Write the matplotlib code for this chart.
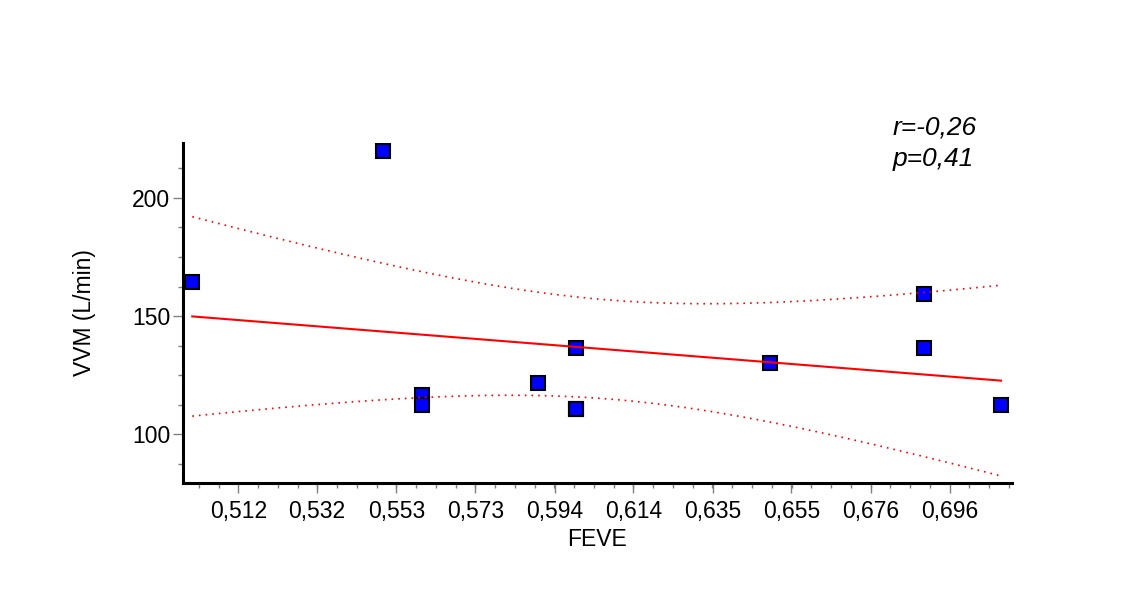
import numpy as np
import matplotlib
matplotlib.use("Agg")
import matplotlib.pyplot as plt
from matplotlib.ticker import FixedLocator, MultipleLocator

plt.rcParams['font.family'] = ['Liberation Sans', 'DejaVu Sans']

# FEVE vs VVM, one pair per subject (two subjects share the same values)
feve = [0.5001, 0.5494, 0.5595, 0.5595, 0.5896, 0.5994, 0.5994, 0.5994,
        0.6496, 0.6895, 0.6895, 0.7093]
vvm = [164.5, 219.7, 116.6, 112.4, 121.6, 136.3, 110.7, 110.7,
       130.0, 159.2, 136.3, 112.4]

xtick_vals = [0.5120, 0.5324, 0.5529, 0.5733, 0.5938, 0.6142, 0.6347, 0.6551, 0.6756, 0.6960]
xtick_labels = ["0,512", "0,532", "0,553", "0,573", "0,594", "0,614", "0,635", "0,655", "0,676", "0,696"]
ytick_vals = [100, 150, 200]
stats_text = ["r=-0,26", "p=0,41"]

x = np.array(feve)
y = np.array(vvm)
n = len(x)

# least squares fit + 95% confidence band of the mean
slope, intercept = np.polyfit(x, y, 1)
resid = y - (slope * x + intercept)
s = np.sqrt(np.sum(resid ** 2) / (n - 2))
sxx = np.sum((x - x.mean()) ** 2)
t95 = 2.228  # t(0.975, df=10)
xs = np.linspace(x.min(), x.max(), 200)
fit = slope * xs + intercept
hw = t95 * s * np.sqrt(1.0 / n + (xs - x.mean()) ** 2 / sxx)

fig = plt.figure(figsize=(11.42, 5.95), dpi=100)
ax = fig.add_axes([0.1602, 0.1882, 0.7260, 0.5715])

ax.plot(x, y, 's', ms=10, mfc='#0000ff', mec='black', mew=1.5, zorder=2)
ax.plot(xs, fit, color='red', lw=1.5, zorder=3)
ax.plot(xs, fit + hw, color='red', lw=1.2, ls=(0, (1, 3)), zorder=3)
ax.plot(xs, fit - hw, color='red', lw=1.2, ls=(0, (1, 3)), zorder=3)

ax.set_xlim(0.49769, 0.71215)
ax.set_ylim(79.4, 223.2)

ax.xaxis.set_major_locator(FixedLocator(xtick_vals))
ax.set_xticklabels(xtick_labels)
step = (xtick_vals[-1] - xtick_vals[0]) / 9
ax.xaxis.set_minor_locator(FixedLocator(np.arange(xtick_vals[0] - 3 * step / 4, 0.7122, step / 4)))
ax.yaxis.set_major_locator(FixedLocator(ytick_vals))
ax.yaxis.set_minor_locator(MultipleLocator(12.5))

for side in ['top', 'right']:
    ax.spines[side].set_visible(False)
for side in ['left', 'bottom']:
    ax.spines[side].set_linewidth(2.2)

ax.tick_params(which='major', length=7, width=1, color='#808080', labelsize=16.5, pad=2)
ax.tick_params(which='minor', length=3.5, width=1, color='#808080')
ax.tick_params(axis='x', which='major', pad=5)

ax.set_xlabel("FEVE", fontsize=16.5, labelpad=4)
ax.set_ylabel("VVM (L/min)", fontsize=16.5, labelpad=26)

fig.text(893 / 1142, 1 - 128 / 595, stats_text[0], fontsize=19, style='italic', va='center', ha='left')
fig.text(893 / 1142, 1 - 159 / 595, stats_text[1], fontsize=19, style='italic', va='center', ha='left')

fig.savefig("out.png", dpi=100)
